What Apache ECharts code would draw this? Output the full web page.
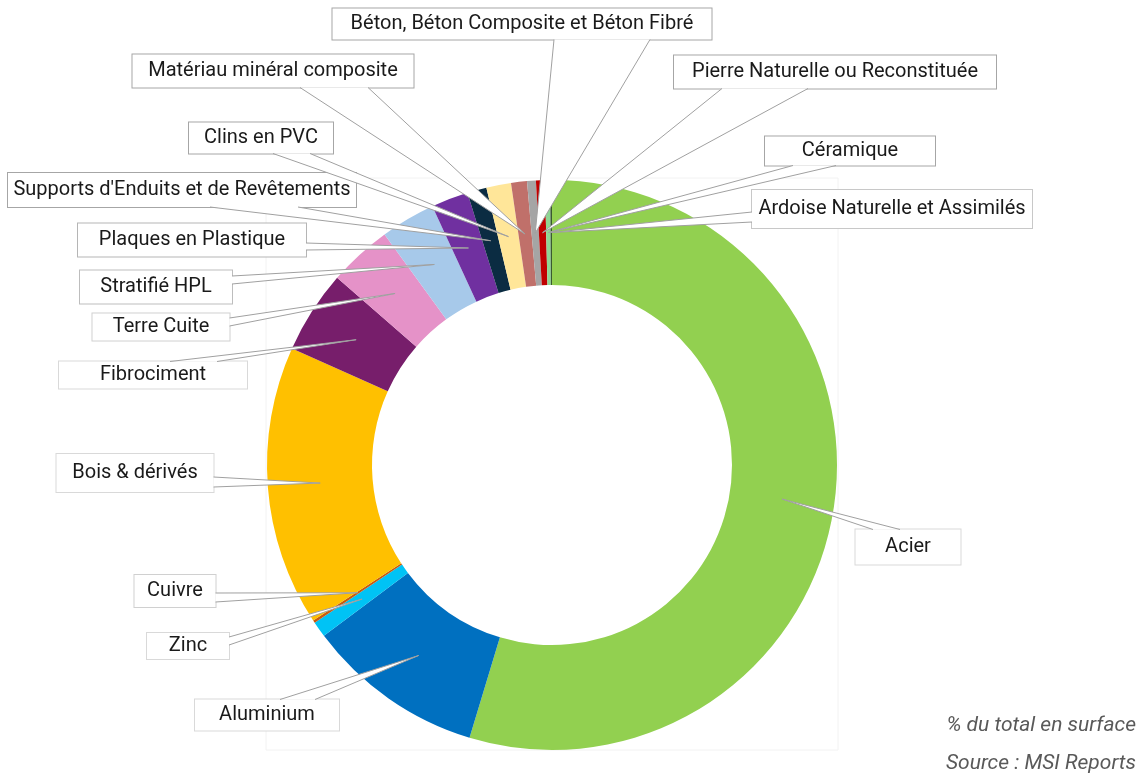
<!DOCTYPE html>
<html>
<head>
<meta charset="utf-8">
<script src="https://cdn.jsdelivr.net/npm/echarts@6/dist/echarts.min.js"></script>
<style>
  html, body { margin: 0; background: #fff; }
  #chart { width: 1140px; height: 775px; }
</style>
</head>
<body>
<div id="chart"></div>
<script>
// parts de marché, en % de la surface totale (sens horaire depuis midi)
const materials = [
  'Acier', 'Aluminium', 'Zinc', 'Cuivre', 'Bois & dérivés', 'Fibrociment',
  'Terre Cuite', 'Stratifié HPL', 'Plaques en Plastique',
  "Supports d'Enduits et de Revêtements", 'Clins en PVC',
  'Matériau minéral composite', 'Béton, Béton Composite et Béton Fibré',
  'Pierre Naturelle ou Reconstituée', 'Céramique', 'Ardoise Naturelle et Assimilés'
]
const shares = [54.7, 10.1, 0.9, 0.15, 15.9, 4.7, 3.6, 3.1, 2.1, 1.1, 1.4, 0.9, 0.5, 0.5, 0.3, 0.1]
const colors = [
  '#92D050', '#0070C0', '#00C3F5', '#C55A11', '#FFC000', '#771E6B',
  '#E592C8', '#A7C9EA', '#7030A0', '#0B2C42', '#FFE699',
  '#C0706A', '#A5A5A5', '#C00000', '#8FD694', '#3A5A30'
]

// boites des étiquettes : centre x, centre y, largeur, hauteur
const labelBoxes = [
  [908, 547, 105, 35], [267, 715, 144, 31], [188, 646, 82, 26], [175, 591, 81, 32],
  [135, 473, 157, 38], [153, 375, 188, 27], [161, 327, 137, 27], [156, 287, 152, 33],
  [192, 240, 228, 33], [182, 190, 348, 34], [261, 138, 144, 31], [273, 71, 281, 33],
  [522, 24, 379, 31], [835, 72, 322, 33], [850, 151, 170, 29], [892, 209, 280, 38]
]
// point d'attache de la flèche : côté de la boite + deux positions le long de ce côté
const calloutBases = [
  ['t', 873, 900], ['t', 280, 315], ['r', 637, 645], ['r', 593, 602],
  ['r', 477, 487], ['t', 170, 217], ['r', 318, 326], ['r', 276, 284],
  ['r', 243, 250], ['b', 210, 298], ['b', 273, 310], ['b', 300, 368],
  ['b', 554, 650], ['b', 722, 808], ['b', 793, 836], ['l', 212, 222]
]
const boxBorders = [
  '#D9D9D9', '#D9D9D9', '#D9D9D9', '#D0D0D0', '#D9D9D9', '#D9D9D9', '#D0D0D0', '#BDBDBD',
  '#B5B5B5', '#A6A6A6', '#A6A6A6', '#A6A6A6', '#A6A6A6', '#A6A6A6', '#A6A6A6', '#C8C8C8'
]

const cx = 552
const cy = 465
const r0 = 180
const r1 = 285

const myChart = echarts.init(document.getElementById('chart'))

const pieData = materials.map((name, i) => ({
  name,
  value: shares[i],
  itemStyle: { color: colors[i] },
  label: { borderColor: boxBorders[i], lineHeight: labelBoxes[i][3] }
}))

const decorations = [
  {
    type: 'rect', z: -1, silent: true,
    shape: { x: 266, y: 178, width: 572, height: 572 },
    style: { fill: 'none', stroke: '#F2F2F2', lineWidth: 1 }
  },
  {
    type: 'text', right: 4, top: 715,
    style: { text: '% du total en surface', font: 'italic 21px Roboto', fill: '#595959' }
  },
  {
    type: 'text', right: 4, top: 753,
    style: { text: 'Source : MSI Reports', font: 'italic 21px Roboto', fill: '#595959' }
  }
]

const option = {
  animation: false,
  series: [
    {
      type: 'pie',
      center: [cx, cy],
      radius: [r0, r1],
      startAngle: 90,
      clockwise: true,
      data: pieData,
      emphasis: { disabled: true },
      label: {
        show: true,
        position: 'outside',
        formatter: '{b}',
        color: '#1a1a1a',
        fontFamily: 'Roboto',
        fontSize: 20,
        backgroundColor: '#fff',
        borderWidth: 1,
        padding: 0
      },
      labelLine: { show: false },
      labelLayout(p) {
        const [bx, by, w, h] = labelBoxes[p.dataIndex]
        return { x: bx, y: by, align: 'center', verticalAlign: 'middle', width: w, height: h }
      }
    }
  ],
  graphic: decorations
}

myChart.setOption(option)

// flèches des bulles (style Excel) : pointe au milieu de l'anneau, base sur la boite
const midAngles = []
try {
  const data = myChart.getModel().getSeriesByIndex(0).getData()
  for (let i = 0; i < materials.length; i++) {
    const l = data.getItemLayout(i)
    midAngles.push((l.startAngle + l.endAngle) / 2)
  }
} catch (e) {
  const total = shares.reduce((s, v) => s + v, 0)
  let acc = 0
  shares.forEach(v => {
    midAngles.push(-Math.PI / 2 + (acc + v / 2) / total * Math.PI * 2)
    acc += v
  })
}

const tipR = (r0 + r1) / 2
const callouts = []
midAngles.forEach((a, i) => {
  const tip = [cx + tipR * Math.cos(a), cy + tipR * Math.sin(a)]
  const [bx, by, w, h] = labelBoxes[i]
  const [side, p, q] = calloutBases[i]
  const edge = { t: by - h / 2, b: by + h / 2, l: bx - w / 2, r: bx + w / 2 }[side]
  const A = (side === 't' || side === 'b') ? [p, edge] : [edge, p]
  const B = (side === 't' || side === 'b') ? [q, edge] : [edge, q]
  callouts.push({
    type: 'polygon', z: 10, silent: true,
    shape: { points: [A, tip, B] },
    style: { fill: '#fff', stroke: null }
  })
  callouts.push({
    type: 'polyline', z: 11, silent: true,
    shape: { points: [A, tip, B] },
    style: { stroke: '#A0A0A0', lineWidth: 1, fill: null }
  })
})

myChart.setOption({ graphic: decorations.concat(callouts) })
</script>
</body>
</html>
